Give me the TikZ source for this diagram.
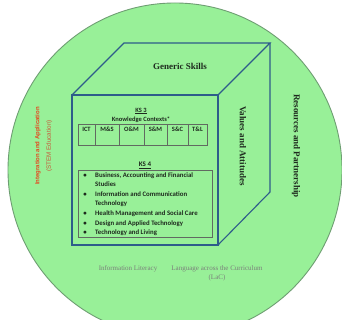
\documentclass[tikz,border=0pt]{standalone}
\usepackage{fontspec}
\setmainfont{Liberation Serif}
\newfontfamily\carl{Carlito}
\newfontfamily\arialf{Liberation Sans}
\definecolor{bgreen}{HTML}{98F098}
\definecolor{edgegreen}{HTML}{6E9E72}
\definecolor{cubeblue}{HTML}{2E5C8A}
\definecolor{redtxt}{HTML}{E5461E}
\definecolor{redtxtb}{HTML}{C8583A}
\definecolor{greytxt}{HTML}{7A7F7A}
\definecolor{darktxt}{HTML}{1E2A1E}
\tikzset{
  cubeline/.style={draw=cubeblue, line width=1.1pt, line join=miter},
  boxline/.style={draw=darktxt!70, line width=0.6pt},
  serifbig/.style={font=\bfseries\fontsize{9}{10}\selectfont, text=darktxt, inner sep=0pt},
  cal/.style={font=\carl\bfseries\fontsize{6.5}{7.5}\selectfont, text=darktxt, inner sep=0pt},
  item/.style={font=\carl\bfseries\fontsize{6.8}{8}\selectfont, text=darktxt, inner sep=0pt, anchor=base west},
  bull/.style={font=\carl\bfseries\fontsize{6.8}{8}\selectfont, text=darktxt, inner sep=0pt, anchor=base},
  greyt/.style={font=\fontsize{7}{9}\selectfont, text=greytxt, inner sep=0pt},
}
\begin{document}
\begin{tikzpicture}[x=1pt,y=-1pt]
\useasboundingbox (0,0) rectangle (342,320);
\begin{scope}
\clip (0,0) rectangle (342,320);
\fill[white] (0,0) rectangle (342,320);
\draw[fill=bgreen, draw=edgegreen, line width=0.9pt] (175,170) circle[radius=167pt];
\end{scope}

% cube
\coordinate (A) at (72,95);
\coordinate (B) at (218,95);
\coordinate (C) at (218,245);
\coordinate (D) at (72,245);
\coordinate (E) at (124,43);
\coordinate (F) at (270,43);
\coordinate (G) at (270,192);
\draw[cubeline] (A) -- (B) -- (C) -- (D) -- cycle;
\draw[cubeline] (A) -- (E) -- (F) -- (B);
\draw[cubeline] (F) -- (G) -- (C);

% faces text
\node[serifbig] (gs) at (180,66) {Generic Skills};
\node[serifbig, rotate=-90] (va) at (243,146) {Values and Attitudes};
\node[serifbig, rotate=-90] (rp) at (296,146) {Resources and Partnership};

% left
\node[rotate=90, align=center, inner sep=0pt] (ia) at (43.5,146)
  {{\arialf\bfseries\fontsize{6}{9}\selectfont\color{redtxt}Integration and Application}\\[-0.5pt]
   {\arialf\fontsize{6.3}{9}\selectfont\color{redtxtb}(STEM Education)}};

% KS3
\node[cal] (ks3) at (141,111) {\underline{KS 3}};
\node[cal] (kc) at (141,120) {Knowledge Contexts*};
\draw[boxline] (78,124) rectangle (207,145);
\foreach \xx in {95,119,144,167,188} \draw[boxline] (\xx,124) -- (\xx,145);
\node[cal] (c1) at (86.5,129) {ICT};
\node[cal] (c2) at (107,129) {M\&S};
\node[cal] (c3) at (131.5,129) {O\&M};
\node[cal] (c4) at (155.5,129) {S\&M};
\node[cal] (c5) at (177.5,129) {S\&C};
\node[cal] (c6) at (197.5,129) {T\&L};

% KS4
\node[cal, font=\carl\bfseries\fontsize{7}{8}\selectfont] (ks4) at (145,165) {\underline{KS 4}};
\draw[boxline] (78,170) rectangle (212,237);
\node[bull] (b1) at (85,177.5) {•};
\node[item] (i1) at (95,177.5) {Business, Accounting and Financial};
\node[item] (i1b) at (95,186) {Studies};
\node[bull] (b2) at (85,196.5) {•};
\node[item] (i2) at (95,196.5) {Information and Communication};
\node[item] (i2b) at (95,205) {Technology};
\node[bull] (b3) at (85,215.5) {•};
\node[item] (i3) at (95,215.5) {Health Management and Social Care};
\node[bull] (b4) at (85,225.5) {•};
\node[item] (i4) at (95,225.5) {Design and Applied Technology};
\node[bull] (b5) at (85,234.5) {•};
\node[item] (i5) at (95,234.5) {Technology and Living};

% bottom
\node[greyt] (il) at (128,269) {Information Literacy};
\node[greyt, align=center] (lac) at (217,273.5) {Language across the Curriculum\\(LaC)};
\end{tikzpicture}
\end{document}
